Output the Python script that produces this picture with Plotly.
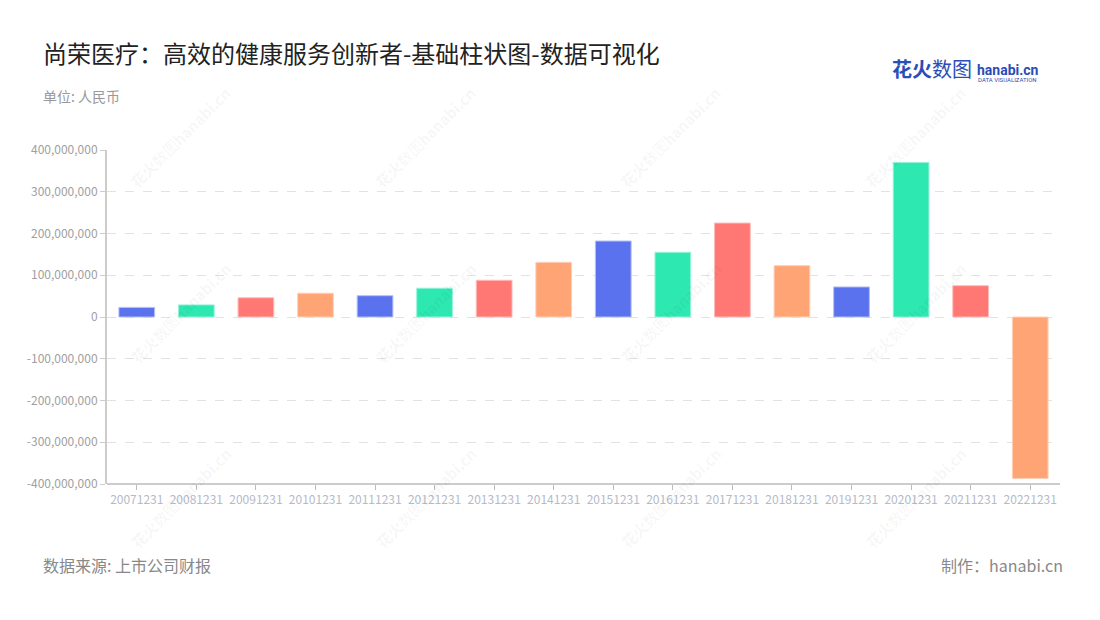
import plotly.graph_objects as go

categories = ["20071231", "20081231", "20091231", "20101231", "20111231", "20121231",
              "20131231", "20141231", "20151231", "20161231", "20171231", "20181231",
              "20191231", "20201231", "20211231", "20221231"]
values = [23e6, 29e6, 46e6, 57e6, 51e6, 69e6, 88e6, 131e6, 182e6, 155e6, 225e6,
          123e6, 72e6, 370e6, 75e6, -387e6]
palette = ["#5A72EE", "#2EE8B1", "#FF7873", "#FFA474"]
borders = ["#B3BFF7", "#97F3D8", "#FFBBB9", "#FFD1B9"]
y_ticks = [-400e6, -300e6, -200e6, -100e6, 0, 100e6, 200e6, 300e6, 400e6]

colors = [palette[i % 4] for i in range(len(categories))]
line_colors = [borders[i % 4] for i in range(len(categories))]

FONT = "Noto Sans CJK SC"
W, H = 1100, 620
L, R, T, B = 99, 48, 142, 144
PW, PH = W - L - R, H - T - B


def px(xp, yp):
    """figure pixel -> paper coords"""
    return (xp - L) / PW, 1 - (yp - T) / PH


fig = go.Figure()
fig.add_trace(go.Bar(
    x=categories, y=values,
    marker=dict(color=colors, line=dict(color=line_colors, width=1)),
    width=0.6,
))

fig.update_layout(
    width=W, height=H,
    margin=dict(l=L, r=R, t=T, b=B),
    paper_bgcolor="white", plot_bgcolor="white",
    font=dict(family=FONT),
    showlegend=False,
    xaxis=dict(
        type="category",
        showgrid=False,
        showline=True, linecolor="#CCCCCC", linewidth=2,
        ticks="outside", tickcolor="#BBBBBB", ticklen=5,
        tickfont=dict(size=12, color="#B5BAC8", family=FONT),
        zeroline=False,
        anchor="free", position=0,
    ),
    yaxis=dict(
        range=[-400e6, 400e6],
        tickvals=y_ticks,
        ticktext=[f"{int(v):,}" for v in y_ticks],
        tickfont=dict(size=12, color="#A0A0A0", family=FONT),
        showgrid=True, gridcolor="#E2E2E2", griddash="dash", gridwidth=1,
        showline=True, linecolor="#CCCCCC", linewidth=2,
        ticks="outside", tickcolor="#CCCCCC", ticklen=5,
        zeroline=False,
    ),
)


def add_text(text, xp, yp, size, color, anchor="left", family=FONT, angle=0):
    x_, y_ = px(xp, yp)
    fig.add_annotation(text=text, xref="paper", yref="paper", x=x_, y=y_,
                       xanchor=anchor, yanchor="middle", showarrow=False,
                       textangle=angle,
                       font=dict(family=family, size=size, color=color))


# watermarks
for wx in [172, 417, 662, 907]:
    for wy in [130, 305, 490]:
        add_text("<b>花火</b>数图<b>hanabi.cn</b>", wx, wy, 15,
                 "rgba(0,0,0,0.055)", anchor="center", angle=-45)

add_text("尚荣医疗：高效的健康服务创新者-基础柱状图-数据可视化", 33, 44, 24, "#222222")
add_text("单位: 人民币", 33, 88, 14, "#999999")
add_text("数据来源: 上市公司财报", 33, 557, 16, "#888888")
add_text("制作：hanabi.cn", 1057, 557, 16, "#888888", anchor="right")

# logo
add_text("<b>花火</b>数图", 882, 61, 20, "#2A4DB8")
add_text("<b>hanabi.cn</b>", 967, 62, 14, "#2A4DB8", family="Roboto")
add_text("DATA VISUALIZATION", 968, 71, 6, "#2A4DB8", family="Roboto")

fig.write_html("out.html")
